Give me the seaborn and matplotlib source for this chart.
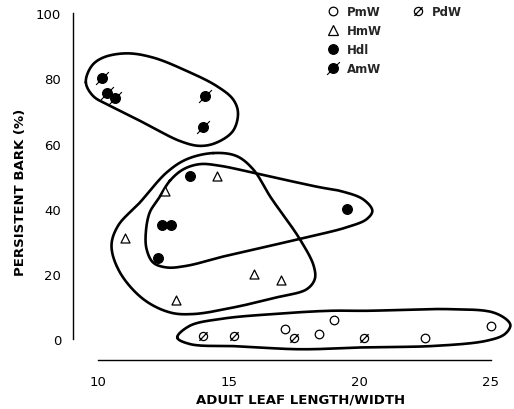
import numpy as np
import pandas as pd
import matplotlib
matplotlib.use("Agg")
import matplotlib.pyplot as plt
from matplotlib.path import Path
from matplotlib.lines import Line2D
import seaborn as sns

# ---- data ----
groups = ["PmW", "HmW", "Hdl", "AmW", "PdW"]
pmw_x = [17.15, 18.45, 19.0, 22.5, 25.0]
pmw_y = [3.0, 1.7, 6.0, 0.3, 4.0]
pdw_x = [14.0, 15.2, 17.5, 20.15]
pdw_y = [1.0, 1.0, 0.5, 0.3]
hmw_x = [14.55, 12.55, 11.05, 15.95, 17.0, 13.0]
hmw_y = [50.0, 45.5, 31.0, 20.0, 18.0, 12.0]
hdl_x = [13.5, 12.45, 12.8, 12.3, 19.5]
hdl_y = [50.0, 35.0, 35.0, 25.0, 40.0]
amw_x = [10.15, 10.35, 10.65, 14.1, 14.0]
amw_y = [80.0, 75.5, 74.0, 74.5, 65.0]
x_ticks = [10, 15, 20, 25]
y_ticks = [0, 20, 40, 60, 80, 100]

# hand-drawn group envelopes (outline control points, data units)
env_top = [(9.54, 78.8), (9.76, 83.8), (10.2, 86.4), (11.1, 87.7), (12.11, 86.4),
           (13.39, 82.3), (14.53, 77.7), (15.16, 73.6), (15.35, 69.5), (15.16, 63.9),
           (14.53, 60.3), (13.89, 59.3), (13.13, 60.8), (11.73, 66.5), (10.46, 71.6),
           (9.82, 74.6)]
env_mid = [(14.40, 57.1), (15.29, 56.2), (15.93, 52.1), (16.6, 43.5), (17.71, 30.7),
           (18.24, 22.5), (18.28, 18.4), (17.97, 15.3), (16.82, 12.8), (15.16, 9.7),
           (13.64, 7.7), (12.75, 8.2), (11.73, 12.3), (10.84, 20.5), (10.52, 28.6),
           (10.77, 34.8), (11.6, 41.9), (12.62, 51.1), (13.39, 55.2)]
env_hdl = [(12.75, 48.6), (13.26, 52.1), (13.89, 53.7), (14.66, 53.2), (16.18, 50.6),
           (18.47, 46.6), (19.24, 45.5), (20.13, 42.9), (20.48, 39.4), (20.26, 36.8),
           (19.49, 34.3), (18.22, 31.7), (16.82, 29.1), (14.91, 25.6), (13.39, 22.5),
           (12.62, 22.0), (12.11, 23.5), (11.86, 27.6), (11.83, 32.7), (11.98, 38.9),
           (12.30, 42.9)]
env_bot = [(13.03, 0.5), (13.51, 4.1), (14.78, 6.3), (16.69, 7.7), (18.85, 8.7),
           (20.26, 8.7), (23.43, 9.2), (25.09, 8.2), (25.66, 5.6), (25.75, 4.1),
           (25.53, 1.5), (24.84, -0.5), (22.8, -2.1), (20.26, -2.5), (17.71, -3.1),
           (15.42, -2.2), (13.51, -1.5)]

df = pd.concat([
    pd.DataFrame({"x": pmw_x, "y": pmw_y, "g": "PmW"}),
    pd.DataFrame({"x": pdw_x, "y": pdw_y, "g": "PdW"}),
    pd.DataFrame({"x": hmw_x, "y": hmw_y, "g": "HmW"}),
    pd.DataFrame({"x": hdl_x, "y": hdl_y, "g": "Hdl"}),
    pd.DataFrame({"x": amw_x, "y": amw_y, "g": "AmW"}),
], ignore_index=True)

SX, SY = 26.2, 3.26  # approximate pixel scale, used only for smooth curve parametrisation


def closed_smooth(pts, n=24, alpha=0.5):
    """Closed centripetal Catmull-Rom curve through the outline points."""
    p = np.asarray(pts, float) * np.array([SX, SY])
    m = len(p)
    out = []
    for i in range(m):
        P0, P1, P2, P3 = p[(i - 1) % m], p[i], p[(i + 1) % m], p[(i + 2) % m]
        t0 = 0.0
        t1 = t0 + np.linalg.norm(P1 - P0) ** alpha
        t2 = t1 + np.linalg.norm(P2 - P1) ** alpha
        t3 = t2 + np.linalg.norm(P3 - P2) ** alpha
        t = np.linspace(t1, t2, n, endpoint=False)[:, None]
        A1 = (t1 - t) / (t1 - t0) * P0 + (t - t0) / (t1 - t0) * P1
        A2 = (t2 - t) / (t2 - t1) * P1 + (t - t1) / (t2 - t1) * P2
        A3 = (t3 - t) / (t3 - t2) * P2 + (t - t2) / (t3 - t2) * P3
        B1 = (t2 - t) / (t2 - t0) * A1 + (t - t0) / (t2 - t0) * A2
        B2 = (t3 - t) / (t3 - t1) * A2 + (t - t1) / (t3 - t1) * A3
        C = (t2 - t) / (t2 - t1) * B1 + (t - t1) / (t2 - t1) * B2
        out.append(C)
    out = np.vstack(out)
    out = np.vstack([out, out[:1]])
    return out / np.array([SX, SY])


# markers
slash_f = Path.make_compound_path(Path.unit_circle(),
                                  Path([[-1.3, -1.3], [1.3, 1.3]], [Path.MOVETO, Path.LINETO]))
slash_o = Path.make_compound_path(Path.unit_circle(),
                                  Path([[-1.0, -1.05], [1.0, 1.05]], [Path.MOVETO, Path.LINETO]))

sns.set_style("white")
plt.rcParams["font.family"] = ["DejaVu Sans"]

fig = plt.figure(figsize=(5.14, 4.10), dpi=100)
ax = fig.add_axes([73 / 514, 49 / 410, 440 / 514, 350 / 410])

styles = {
    "PmW": dict(marker="o", s=38, facecolor="white", edgecolor="black", linewidth=0.9),
    "PdW": dict(marker=slash_o, s=38, facecolor="white", edgecolor="black", linewidth=0.9),
    "HmW": dict(marker="^", s=42, facecolor="white", edgecolor="black", linewidth=0.9),
    "Hdl": dict(marker="o", s=50, facecolor="black", edgecolor="black", linewidth=0.8),
    "AmW": dict(marker=slash_f, s=85, facecolor="black", edgecolor="black", linewidth=0.8),
}
for g in groups:
    sub = df[df["g"] == g]
    sns.scatterplot(data=sub, x="x", y="y", ax=ax, legend=False, zorder=3, **styles[g])

for env in (env_top, env_mid, env_hdl, env_bot):
    c = closed_smooth(env)
    ax.plot(c[:, 0], c[:, 1], color="black", lw=1.9, solid_capstyle="round",
            solid_joinstyle="round", zorder=2)

ax.set_xlim(9.05, 25.85)
ax.set_ylim(-6.4, 101)
ax.set_xticks(x_ticks)
ax.set_yticks(y_ticks)
ax.set_xticklabels([str(v) for v in x_ticks])
ax.set_yticklabels([str(v) for v in y_ticks])
for s in ("top", "right"):
    ax.spines[s].set_visible(False)
ax.spines["left"].set_bounds(0, 100)
ax.spines["bottom"].set_bounds(10, 25)
for s in ("left", "bottom"):
    ax.spines[s].set_color("black")
    ax.spines[s].set_linewidth(1.0)
ax.tick_params(axis="both", direction="out", length=4.5, width=1.0, color="black",
               labelsize=9.5, labelcolor="black", pad=4)
ax.tick_params(axis="x", pad=6)

ax.set_xlabel("ADULT LEAF LENGTH/WIDTH", fontsize=9.5, fontweight="bold", color="black")
ax.set_ylabel("PERSISTENT BARK (%)", fontsize=9.5, fontweight="bold", color="black")
ax.xaxis.set_label_coords((301 - 73) / 440, -(400 - 361) / 350 - 0.0)
ax.yaxis.set_label_coords(-(73 - 21) / 440, (361 - 192) / 350)
ax.xaxis.label.set_va("center")
ax.yaxis.label.set_va("center")


def handle(g, ms):
    st = styles[g]
    return Line2D([], [], linestyle="none", marker=st["marker"], markersize=ms,
                  markerfacecolor=st["facecolor"], markeredgecolor=st["edgecolor"],
                  markeredgewidth=st["linewidth"])


blank = Line2D([], [], linestyle="none")
handles = [handle("PmW", 6.2), handle("HmW", 6.5), handle("Hdl", 7.0), handle("AmW", 9.2),
           handle("PdW", 6.2), blank, blank, blank]
labels = ["PmW", "HmW", "Hdl", "AmW", "PdW", "", "", ""]
leg = fig.legend(handles, labels, ncol=2, loc="upper left",
                 bbox_to_anchor=(327 / 514, 1 - 6 / 410), frameon=False,
                 prop={"weight": "bold", "size": 8.5}, handlelength=1.0,
                 handletextpad=0.65, columnspacing=2.6, labelspacing=0.5,
                 borderaxespad=0, borderpad=0)

fig.savefig("out.png", dpi=100, facecolor="white")
